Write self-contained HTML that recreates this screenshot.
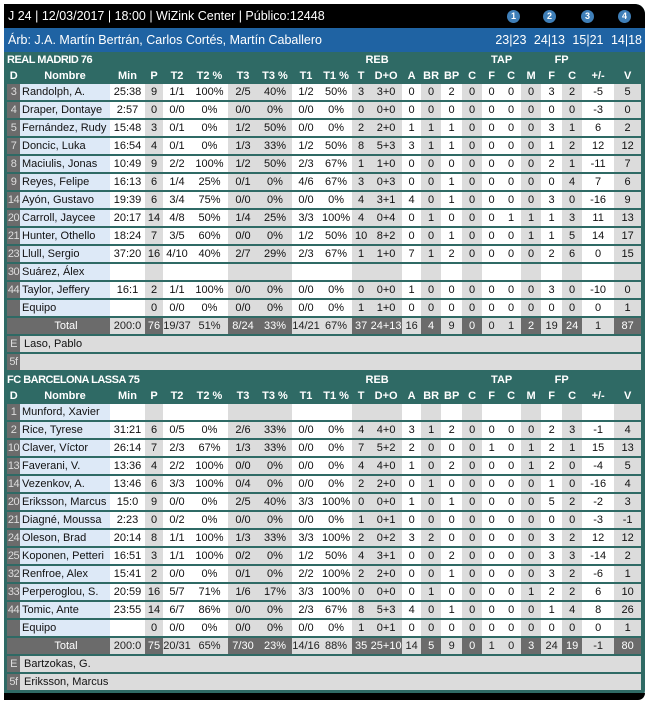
<!DOCTYPE html>
<html><head><meta charset="utf-8">
<style>
*{margin:0;padding:0;box-sizing:border-box}
body{width:649px;height:703px;background:#fff;font-family:"Liberation Sans",Arial,sans-serif;position:relative;overflow:hidden}
#fr{position:absolute;left:4px;top:4px;width:641px;height:696px;background:#2f6a65;border-radius:0 10px 10px 0}
#top{position:absolute;left:0;top:0;width:641px;height:24px;background:#000;border-radius:0 10px 0 0;color:#fff;font-size:12.5px;line-height:24px;padding-left:4px}
.c{position:absolute;top:6px;width:13px;height:13px;border-radius:50%;background:#3f7fb8;color:#fff;font-size:9px;font-weight:bold;line-height:13px;text-align:center}
#blue{position:absolute;left:0;top:24px;width:641px;height:24px;background:#1f63a3;color:#fff;font-size:12.5px;line-height:25px;padding-left:4px}
#sc{position:absolute;right:3px;top:0;word-spacing:4px}
#bot{position:absolute;left:0;top:689px;width:641px;height:7px;background:#000;border-radius:0 0 10px 0}
table{position:absolute;left:3px;border-collapse:separate;border-spacing:0;table-layout:fixed;width:634px;font-size:11px}
td{height:18px;border-bottom:2px solid #2f6a65;padding:0;text-align:center;background:#fff;color:#111;white-space:nowrap;overflow:hidden;line-height:16px}
tr.h td{background:#2f6a65;color:#fff;font-weight:bold;border-bottom:none;height:16px;line-height:16px;overflow:visible}
tr.h td:nth-child(2){text-align:center;padding:0}
tr.h td.ti{text-align:left;padding-left:0;background:#2f6a65;color:#fff}
td:nth-child(1){background:#6b6b6b;color:#ddd;font-size:11px;letter-spacing:-0.5px}
td:nth-child(2){background:#dde9f7;text-align:left;padding-left:2px}
td:nth-child(4),td:nth-child(7),td:nth-child(8),td:nth-child(11),td:nth-child(12),td:nth-child(14),td:nth-child(16),td:nth-child(19),td:nth-child(21),td:nth-child(23){background:#dcdcdc}
tr.t td{background:#dcdcdc;color:#222}
tr.t td:nth-child(1),tr.t td:nth-child(2),tr.t td:nth-child(4),tr.t td:nth-child(7),tr.t td:nth-child(8),tr.t td:nth-child(11),tr.t td:nth-child(12),tr.t td:nth-child(14),tr.t td:nth-child(16),tr.t td:nth-child(19),tr.t td:nth-child(21),tr.t td:nth-child(23){background:#6b6b6b;color:#fff}
tr.t td:nth-child(2){text-align:center}
tr.e td:nth-child(2){background:#dcdcdc;padding-left:4px}
</style></head><body>
<div id="fr">
<div id="top">J 24 | 12/03/2017 | 18:00 | WiZink Center | Público:12448
<div class="c" style="left:503px">1</div><div class="c" style="left:539px">2</div><div class="c" style="left:577px">3</div><div class="c" style="left:614px">4</div></div>
<div id="blue">Árb: J.A. Martín Bertrán, Carlos Cortés, Martín Caballero<span id="sc">23|23 24|13 15|21 14|18</span></div>

<table style="top:48px">
<colgroup><col style="width:13px"><col style="width:90px"><col style="width:35px"><col style="width:18px"><col style="width:28px"><col style="width:37px"><col style="width:30px"><col style="width:34px"><col style="width:28px"><col style="width:32px"><col style="width:18px"><col style="width:32px"><col style="width:19px"><col style="width:20px"><col style="width:21px"><col style="width:20px"><col style="width:19px"><col style="width:20px"><col style="width:20px"><col style="width:21px"><col style="width:20px"><col style="width:32px"><col style="width:27px"></colgroup>
<tr class="h"><td class="ti" colspan="10">REAL MADRID 76</td><td colspan="2">REB</td><td></td><td></td><td></td><td></td><td colspan="2">TAP</td><td></td><td colspan="2">FP</td><td></td><td></td></tr>
<tr class="h"><td>D</td><td>Nombre</td><td>Min</td><td>P</td><td>T2</td><td>T2 %</td><td>T3</td><td>T3 %</td><td>T1</td><td>T1 %</td><td>T</td><td>D+O</td><td>A</td><td>BR</td><td>BP</td><td>C</td><td>F</td><td>C</td><td>M</td><td>F</td><td>C</td><td>+/-</td><td>V</td></tr>
<tr><td>3</td><td>Randolph, A.</td><td>25:38</td><td>9</td><td>1/1</td><td>100%</td><td>2/5</td><td>40%</td><td>1/2</td><td>50%</td><td>3</td><td>3+0</td><td>0</td><td>0</td><td>2</td><td>0</td><td>0</td><td>0</td><td>0</td><td>3</td><td>2</td><td>-5</td><td>5</td></tr>
<tr><td>4</td><td>Draper, Dontaye</td><td>2:57</td><td>0</td><td>0/0</td><td>0%</td><td>0/0</td><td>0%</td><td>0/0</td><td>0%</td><td>0</td><td>0+0</td><td>0</td><td>0</td><td>0</td><td>0</td><td>0</td><td>0</td><td>0</td><td>0</td><td>0</td><td>-3</td><td>0</td></tr>
<tr><td>5</td><td>Fernández, Rudy</td><td>15:48</td><td>3</td><td>0/1</td><td>0%</td><td>1/2</td><td>50%</td><td>0/0</td><td>0%</td><td>2</td><td>2+0</td><td>1</td><td>1</td><td>1</td><td>0</td><td>0</td><td>0</td><td>0</td><td>3</td><td>1</td><td>6</td><td>2</td></tr>
<tr><td>7</td><td>Doncic, Luka</td><td>16:54</td><td>4</td><td>0/1</td><td>0%</td><td>1/3</td><td>33%</td><td>1/2</td><td>50%</td><td>8</td><td>5+3</td><td>3</td><td>1</td><td>1</td><td>0</td><td>0</td><td>0</td><td>0</td><td>1</td><td>2</td><td>12</td><td>12</td></tr>
<tr><td>8</td><td>Maciulis, Jonas</td><td>10:49</td><td>9</td><td>2/2</td><td>100%</td><td>1/2</td><td>50%</td><td>2/3</td><td>67%</td><td>1</td><td>1+0</td><td>0</td><td>0</td><td>0</td><td>0</td><td>0</td><td>0</td><td>0</td><td>2</td><td>1</td><td>-11</td><td>7</td></tr>
<tr><td>9</td><td>Reyes, Felipe</td><td>16:13</td><td>6</td><td>1/4</td><td>25%</td><td>0/1</td><td>0%</td><td>4/6</td><td>67%</td><td>3</td><td>0+3</td><td>0</td><td>0</td><td>1</td><td>0</td><td>0</td><td>0</td><td>0</td><td>0</td><td>4</td><td>7</td><td>6</td></tr>
<tr><td>14</td><td>Ayón, Gustavo</td><td>19:39</td><td>6</td><td>3/4</td><td>75%</td><td>0/0</td><td>0%</td><td>0/0</td><td>0%</td><td>4</td><td>3+1</td><td>4</td><td>0</td><td>1</td><td>0</td><td>0</td><td>0</td><td>0</td><td>3</td><td>0</td><td>-16</td><td>9</td></tr>
<tr><td>20</td><td>Carroll, Jaycee</td><td>20:17</td><td>14</td><td>4/8</td><td>50%</td><td>1/4</td><td>25%</td><td>3/3</td><td>100%</td><td>4</td><td>0+4</td><td>0</td><td>1</td><td>0</td><td>0</td><td>0</td><td>1</td><td>1</td><td>1</td><td>3</td><td>11</td><td>13</td></tr>
<tr><td>21</td><td>Hunter, Othello</td><td>18:24</td><td>7</td><td>3/5</td><td>60%</td><td>0/0</td><td>0%</td><td>1/2</td><td>50%</td><td>10</td><td>8+2</td><td>0</td><td>0</td><td>1</td><td>0</td><td>0</td><td>0</td><td>1</td><td>1</td><td>5</td><td>14</td><td>17</td></tr>
<tr><td>23</td><td>Llull, Sergio</td><td>37:20</td><td>16</td><td>4/10</td><td>40%</td><td>2/7</td><td>29%</td><td>2/3</td><td>67%</td><td>1</td><td>1+0</td><td>7</td><td>1</td><td>2</td><td>0</td><td>0</td><td>0</td><td>0</td><td>2</td><td>6</td><td>0</td><td>15</td></tr>
<tr><td>30</td><td>Suárez, Álex</td><td></td><td></td><td></td><td></td><td></td><td></td><td></td><td></td><td></td><td></td><td></td><td></td><td></td><td></td><td></td><td></td><td></td><td></td><td></td><td></td><td></td></tr>
<tr><td>44</td><td>Taylor, Jeffery</td><td>16:1</td><td>2</td><td>1/1</td><td>100%</td><td>0/0</td><td>0%</td><td>0/0</td><td>0%</td><td>0</td><td>0+0</td><td>1</td><td>0</td><td>0</td><td>0</td><td>0</td><td>0</td><td>0</td><td>3</td><td>0</td><td>-10</td><td>0</td></tr>
<tr><td></td><td>Equipo</td><td></td><td>0</td><td>0/0</td><td>0%</td><td>0/0</td><td>0%</td><td>0/0</td><td>0%</td><td>1</td><td>1+0</td><td>0</td><td>0</td><td>0</td><td>0</td><td>0</td><td>0</td><td>0</td><td>0</td><td>0</td><td>0</td><td>1</td></tr>
<tr class="t"><td></td><td>Total</td><td>200:0</td><td>76</td><td>19/37</td><td>51%</td><td>8/24</td><td>33%</td><td>14/21</td><td>67%</td><td>37</td><td>24+13</td><td>16</td><td>4</td><td>9</td><td>0</td><td>0</td><td>1</td><td>2</td><td>19</td><td>24</td><td>1</td><td>87</td></tr>
<tr class="e"><td>E</td><td colspan="22">Laso, Pablo</td></tr>
<tr class="e"><td>5f</td><td colspan="22"></td></tr>
</table>

<table style="top:368px">
<colgroup><col style="width:13px"><col style="width:90px"><col style="width:35px"><col style="width:18px"><col style="width:28px"><col style="width:37px"><col style="width:30px"><col style="width:34px"><col style="width:28px"><col style="width:32px"><col style="width:18px"><col style="width:32px"><col style="width:19px"><col style="width:20px"><col style="width:21px"><col style="width:20px"><col style="width:19px"><col style="width:20px"><col style="width:20px"><col style="width:21px"><col style="width:20px"><col style="width:32px"><col style="width:27px"></colgroup>
<tr class="h"><td class="ti" colspan="10">FC BARCELONA LASSA 75</td><td colspan="2">REB</td><td></td><td></td><td></td><td></td><td colspan="2">TAP</td><td></td><td colspan="2">FP</td><td></td><td></td></tr>
<tr class="h"><td>D</td><td>Nombre</td><td>Min</td><td>P</td><td>T2</td><td>T2 %</td><td>T3</td><td>T3 %</td><td>T1</td><td>T1 %</td><td>T</td><td>D+O</td><td>A</td><td>BR</td><td>BP</td><td>C</td><td>F</td><td>C</td><td>M</td><td>F</td><td>C</td><td>+/-</td><td>V</td></tr>
<tr><td>1</td><td>Munford, Xavier</td><td></td><td></td><td></td><td></td><td></td><td></td><td></td><td></td><td></td><td></td><td></td><td></td><td></td><td></td><td></td><td></td><td></td><td></td><td></td><td></td><td></td></tr>
<tr><td>2</td><td>Rice, Tyrese</td><td>31:21</td><td>6</td><td>0/5</td><td>0%</td><td>2/6</td><td>33%</td><td>0/0</td><td>0%</td><td>4</td><td>4+0</td><td>3</td><td>1</td><td>2</td><td>0</td><td>0</td><td>0</td><td>0</td><td>2</td><td>3</td><td>-1</td><td>4</td></tr>
<tr><td>10</td><td>Claver, Víctor</td><td>26:14</td><td>7</td><td>2/3</td><td>67%</td><td>1/3</td><td>33%</td><td>0/0</td><td>0%</td><td>7</td><td>5+2</td><td>2</td><td>0</td><td>0</td><td>0</td><td>1</td><td>0</td><td>1</td><td>2</td><td>1</td><td>15</td><td>13</td></tr>
<tr><td>13</td><td>Faverani, V.</td><td>13:36</td><td>4</td><td>2/2</td><td>100%</td><td>0/0</td><td>0%</td><td>0/0</td><td>0%</td><td>4</td><td>4+0</td><td>1</td><td>0</td><td>2</td><td>0</td><td>0</td><td>0</td><td>1</td><td>2</td><td>0</td><td>-4</td><td>5</td></tr>
<tr><td>14</td><td>Vezenkov, A.</td><td>13:46</td><td>6</td><td>3/3</td><td>100%</td><td>0/4</td><td>0%</td><td>0/0</td><td>0%</td><td>2</td><td>2+0</td><td>0</td><td>1</td><td>0</td><td>0</td><td>0</td><td>0</td><td>0</td><td>1</td><td>0</td><td>-16</td><td>4</td></tr>
<tr><td>20</td><td>Eriksson, Marcus</td><td>15:0</td><td>9</td><td>0/0</td><td>0%</td><td>2/5</td><td>40%</td><td>3/3</td><td>100%</td><td>0</td><td>0+0</td><td>1</td><td>0</td><td>1</td><td>0</td><td>0</td><td>0</td><td>0</td><td>5</td><td>2</td><td>-2</td><td>3</td></tr>
<tr><td>21</td><td>Diagné, Moussa</td><td>2:23</td><td>0</td><td>0/2</td><td>0%</td><td>0/0</td><td>0%</td><td>0/0</td><td>0%</td><td>1</td><td>0+1</td><td>0</td><td>0</td><td>0</td><td>0</td><td>0</td><td>0</td><td>0</td><td>0</td><td>0</td><td>-3</td><td>-1</td></tr>
<tr><td>24</td><td>Oleson, Brad</td><td>20:14</td><td>8</td><td>1/1</td><td>100%</td><td>1/3</td><td>33%</td><td>3/3</td><td>100%</td><td>2</td><td>0+2</td><td>3</td><td>2</td><td>0</td><td>0</td><td>0</td><td>0</td><td>0</td><td>3</td><td>2</td><td>12</td><td>12</td></tr>
<tr><td>25</td><td>Koponen, Petteri</td><td>16:51</td><td>3</td><td>1/1</td><td>100%</td><td>0/2</td><td>0%</td><td>1/2</td><td>50%</td><td>4</td><td>3+1</td><td>0</td><td>0</td><td>2</td><td>0</td><td>0</td><td>0</td><td>0</td><td>3</td><td>3</td><td>-14</td><td>2</td></tr>
<tr><td>32</td><td>Renfroe, Alex</td><td>15:41</td><td>2</td><td>0/0</td><td>0%</td><td>0/1</td><td>0%</td><td>2/2</td><td>100%</td><td>2</td><td>2+0</td><td>0</td><td>0</td><td>1</td><td>0</td><td>0</td><td>0</td><td>0</td><td>3</td><td>2</td><td>-6</td><td>1</td></tr>
<tr><td>33</td><td>Perperoglou, S.</td><td>20:59</td><td>16</td><td>5/7</td><td>71%</td><td>1/6</td><td>17%</td><td>3/3</td><td>100%</td><td>0</td><td>0+0</td><td>0</td><td>1</td><td>0</td><td>0</td><td>0</td><td>0</td><td>1</td><td>2</td><td>2</td><td>6</td><td>10</td></tr>
<tr><td>44</td><td>Tomic, Ante</td><td>23:55</td><td>14</td><td>6/7</td><td>86%</td><td>0/0</td><td>0%</td><td>2/3</td><td>67%</td><td>8</td><td>5+3</td><td>4</td><td>0</td><td>1</td><td>0</td><td>0</td><td>0</td><td>0</td><td>1</td><td>4</td><td>8</td><td>26</td></tr>
<tr><td></td><td>Equipo</td><td></td><td>0</td><td>0/0</td><td>0%</td><td>0/0</td><td>0%</td><td>0/0</td><td>0%</td><td>1</td><td>0+1</td><td>0</td><td>0</td><td>0</td><td>0</td><td>0</td><td>0</td><td>0</td><td>0</td><td>0</td><td>0</td><td>1</td></tr>
<tr class="t"><td></td><td>Total</td><td>200:0</td><td>75</td><td>20/31</td><td>65%</td><td>7/30</td><td>23%</td><td>14/16</td><td>88%</td><td>35</td><td>25+10</td><td>14</td><td>5</td><td>9</td><td>0</td><td>1</td><td>0</td><td>3</td><td>24</td><td>19</td><td>-1</td><td>80</td></tr>
<tr class="e"><td>E</td><td colspan="22">Bartzokas, G.</td></tr>
<tr class="e"><td>5f</td><td colspan="22">Eriksson, Marcus</td></tr>
</table>
<div id="bot"></div>
</div>
</body></html>
